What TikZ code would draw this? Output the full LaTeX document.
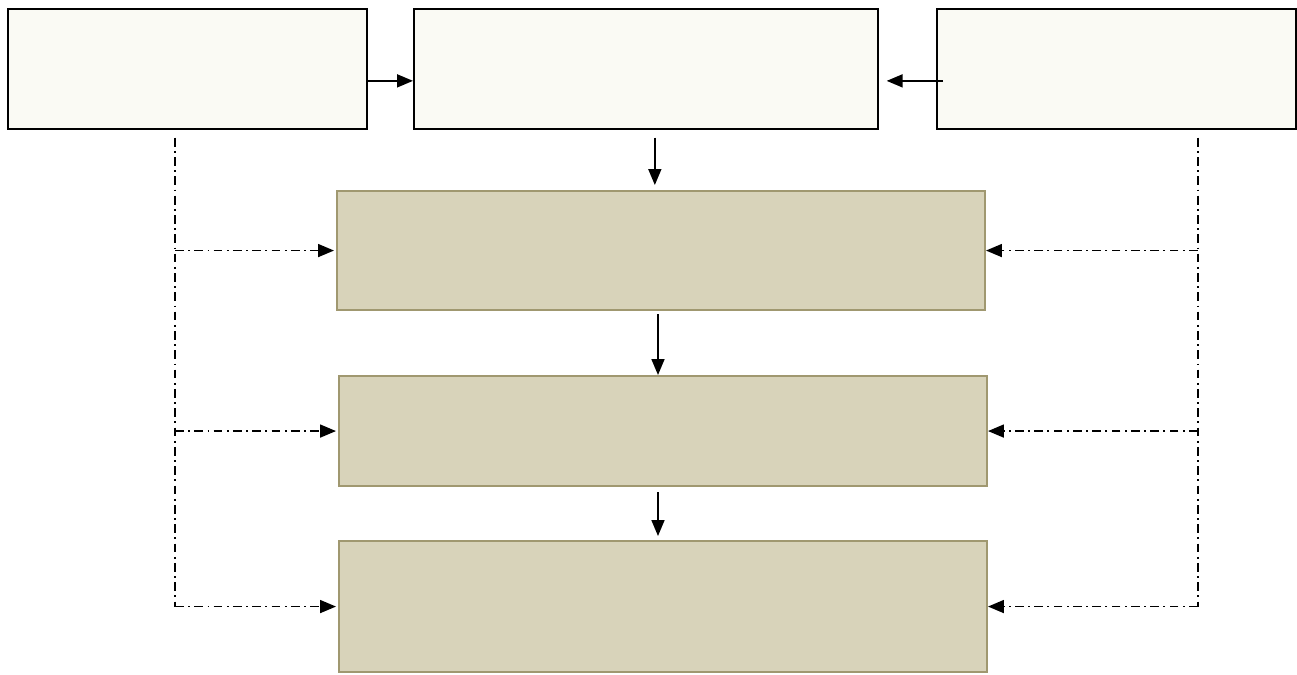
\documentclass[tikz,border=0pt]{standalone}
\usetikzlibrary{arrows.meta, positioning, calc}
\usepackage{xcolor}
\definecolor{boxcream}{RGB}{250,250,244}
\definecolor{boxtan}{RGB}{216,211,186}
\definecolor{boxedge}{RGB}{160,152,112}

\begin{document}
\begin{tikzpicture}[x=0.02cm, y=-0.02cm,
  inbox/.style={rectangle, draw=black, line width=1pt, fill=boxcream, minimum width=7.18cm, minimum height=2.4cm, inner sep=0pt, anchor=north west},
  stage/.style={rectangle, draw=boxedge, line width=1.2pt, fill=boxtan, minimum width=12.96cm, inner sep=0pt, anchor=north west},
  arrow/.style={-{Triangle[length=3.2mm, width=2.6mm]}, line width=1pt},
  feed/.style={line width=1.1pt, dash pattern=on 5pt off 2.5pt on 1pt off 2.5pt},
]
  \useasboundingbox (0,0) rectangle (1297,674);

  \node[inbox] (src1) at (7,8) {};
  \node[inbox, minimum width=9.28cm] (core) at (413,8) {};
  \node[inbox] (src2) at (936,8) {};
  \node[stage, minimum height=2.38cm] (st1) at (336,190) {};
  \node[stage, minimum height=2.2cm] (st2) at (338,375) {};
  \node[stage, minimum height=2.62cm] (st3) at (338,540) {};

  \draw[arrow] ([yshift=-0.24cm]src1.east) -- ([yshift=-0.24cm]core.west);
  \draw[arrow] ([xshift=0.14cm, yshift=-0.24cm]src2.west) -- ([xshift=0.16cm, yshift=-0.24cm]core.east);
  \coordinate (b0) at ($(core.south)+(9,8)$);
  \coordinate (b1) at ($(st1.south)+(-3,3)$);
  \coordinate (b2) at ($(st2.south)+(-5,5)$);
  \draw[arrow, shorten >=0.1cm] (b0) -- (b0 |- st1.north);
  \draw[arrow] (b1) -- (b1 |- st2.north);
  \draw[arrow, shorten >=0.08cm] (b2) -- (b2 |- st3.north);

  % side feeds
  \coordinate (lt) at ($(src1.south west)+(168,8)$);
  \coordinate (rt) at ($(src2.south east)+(-99,8)$);
  \draw[feed] (lt) -- (lt |- st3.west);
  \draw[feed] (rt) -- (rt |- st3.east);
  \foreach \s in {st1, st2, st3} {
    \draw[feed, arrow] (lt |- \s.west) -- ([xshift=-0.04cm]\s.west);
    \draw[feed, arrow] (rt |- \s.east) -- (\s.east);
  }
\end{tikzpicture}
\end{document}
